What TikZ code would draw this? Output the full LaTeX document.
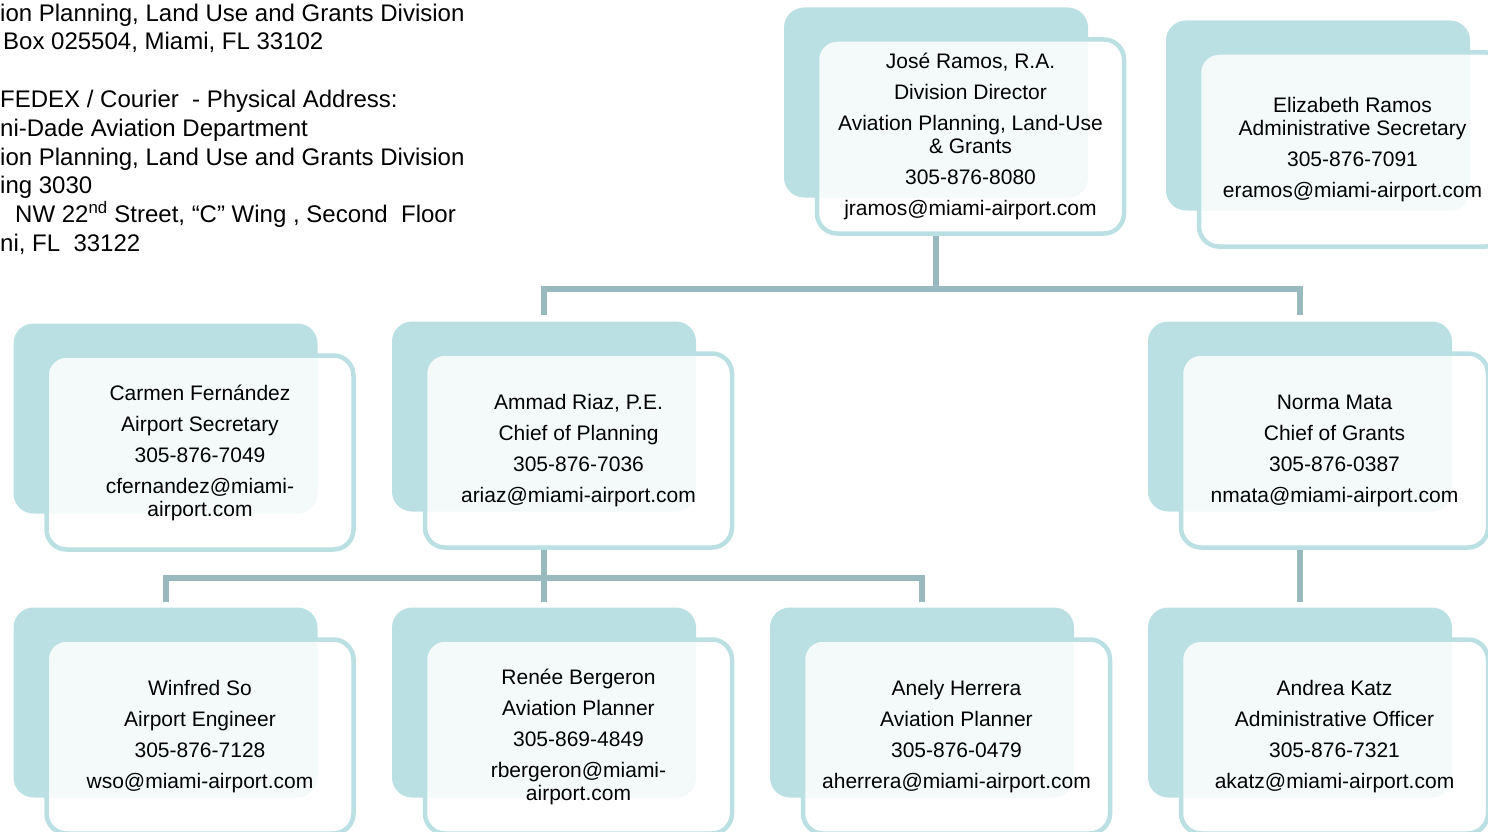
\documentclass[tikz,border=0pt]{standalone}
\usepackage{fontspec}
\setmainfont{Liberation Sans}
\usetikzlibrary{backgrounds}

\definecolor{fondcarte}{RGB}{186,224,227}
\definecolor{trait}{RGB}{152,186,190}

\tikzset{
  back/.style={fill=fondcarte, rounded corners=20pt, minimum width=304pt, minimum height=190pt, inner sep=0pt},
  front/.style={draw=fondcarte, line width=4.5pt, fill=white, fill opacity=0.85, text opacity=1,
    rounded corners=20pt, minimum width=307pt, minimum height=194pt, inner sep=0pt,
    align=center, font=\fontsize{21}{23}\selectfont},
  conn/.style={draw=trait, line width=6pt}
}

% une fiche : fond decale + carte
\newcommand{\fiche}[4]{%
  \node[back] (#1bk) at ([shift={(-34.5,-32.5)}]#2,#3) {};
  \node[front] (#1) at (#2,#3+1.5) {#4};}

\begin{document}
\begin{tikzpicture}[x=1pt,y=-1pt]
  \useasboundingbox (0,0) rectangle (1488,832);
  % Adresse
  \node[anchor=north west, inner sep=0pt, align=left, font=\fontsize{24}{28.8}\selectfont] (adresse) at (0,3.5)
    {ion Planning, Land Use and Grants Division\\
     \hspace*{3pt}Box 025504, Miami, FL 33102\\[28.8pt]
     FEDEX / Courier\ \ - Physical Address:\\
     ni-Dade Aviation Department\\
     ion Planning, Land Use and Grants Division\\
     ing 3030\\
     \hspace*{15pt}NW 22\textsuperscript{nd} Street, “C” Wing , Second\ \ Floor\\
     ni, FL\ \ 33122};
  % Direction
  \fiche{dir}{970.5}{135}{José Ramos, R.A.\\[8pt] Division Director\\[8pt] Aviation Planning, Land-Use\\ \& Grants\\[8pt] 305-876-8080\\[8pt] jramos@miami-airport.com}
  \fiche{sec}{1352.5}{148}{Elizabeth Ramos\\ Administrative Secretary\\[8pt] 305-876-7091\\[8pt] eramos@miami-airport.com}
  % Chefs
  \fiche{carmen}{200}{451}{Carmen Fernández\\[8pt] Airport Secretary\\[8pt] 305-876-7049\\[8pt] cfernandez@miami-\\ airport.com}
  \fiche{ammad}{578.5}{449}{Ammad Riaz, P.E.\\[8pt] Chief of Planning\\[8pt] 305-876-7036\\[8pt] ariaz@miami-airport.com}
  \fiche{norma}{1334.5}{449}{Norma Mata\\[8pt] Chief of Grants\\[8pt] 305-876-0387\\[8pt] nmata@miami-airport.com}
  % Equipe
  \fiche{winfred}{200}{735}{Winfred So\\[8pt] Airport Engineer\\[8pt] 305-876-7128\\[8pt] wso@miami-airport.com}
  \fiche{renee}{578.5}{735}{Renée Bergeron\\[8pt] Aviation Planner\\[8pt] 305-869-4849\\[8pt] rbergeron@miami-\\ airport.com}
  \fiche{anely}{956.5}{735}{Anely Herrera\\[8pt] Aviation Planner\\[8pt] 305-876-0479\\[8pt] aherrera@miami-airport.com}
  \fiche{andrea}{1334.5}{735}{Andrea Katz\\[8pt] Administrative Officer\\[8pt] 305-876-7321\\[8pt] akatz@miami-airport.com}
  % Liaisons
  \begin{scope}[on background layer]
    \draw[conn, shorten <=6pt, shorten >=6pt] (ammadbk.north) -- ++(0,-32) coordinate (barre1) -| (normabk.north);
    \draw[conn] (dirbk |- dir.south) -- (dirbk |- barre1);
    \draw[conn] (ammad.south -| ammadbk) -- ++(0,28) coordinate (barre2);
    \draw[conn, shorten <=5pt, shorten >=5pt] (winfredbk.north) |- (barre2) -| (anelybk.north);
    \draw[conn, shorten >=5pt] (barre2) -- (reneebk.north);
    \draw[conn, shorten >=5pt] (norma.south -| normabk) -- (andreabk.north);
  \end{scope}
\end{tikzpicture}
\end{document}
